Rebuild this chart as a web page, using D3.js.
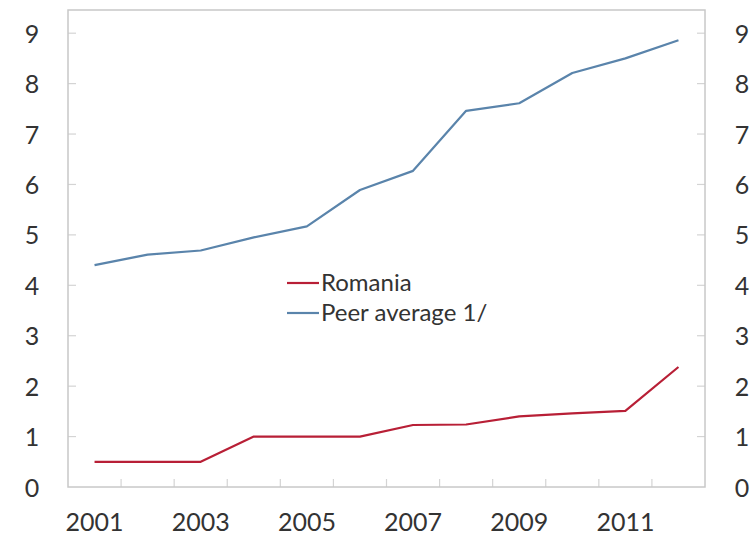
<!DOCTYPE html>
<html>
<head>
<meta charset="utf-8">
<script src="https://cdn.jsdelivr.net/npm/d3@7/dist/d3.min.js"></script>
<style>
  html, body { margin: 0; padding: 0; background: #fff; }
  svg { display: block; }
  text { font-family: Lato, "Open Sans", sans-serif; fill: #333; }
</style>
</head>
<body>
<svg id="chart" width="755" height="535"></svg>
<script>
const years = ["2001","2002","2003","2004","2005","2006","2007","2008","2009","2010","2011","2012"];
const yearLabels = ["2001","2003","2005","2007","2009","2011"];
const romania = [0.5, 0.5, 0.5, 1.0, 1.0, 1.0, 1.23, 1.24, 1.4, 1.46, 1.51, 2.38];
const peerAverage = [4.40, 4.61, 4.69, 4.95, 5.17, 5.89, 6.27, 7.46, 7.61, 8.21, 8.50, 8.86];
const yTicks = [0,1,2,3,4,5,6,7,8,9];
const seriesNames = ["Romania", "Peer average 1/"];

(function () {
const svg = d3.select("#chart");
const mLeft = 68, mRight = 705, mTop = 10, mBottom = 487;

const x = d3.scaleBand().domain(years).range([mLeft, mRight]).padding(0);
const y = d3.scaleLinear().domain([0, 9.46]).range([mBottom, mTop]);
const cx = d => x(d) + x.bandwidth() / 2;

const fontSize = 25;
const gridColor = "#c8c8c8";

// tick marks (inside)
const gTicks = svg.append("g");
yTicks.forEach(v => {
  if (v === 0) return;
  gTicks.append("line").attr("x1", mLeft).attr("x2", mLeft + 8)
    .attr("y1", y(v)).attr("y2", y(v)).attr("stroke", "#d4d4d4").attr("stroke-width", 1.2);
  gTicks.append("line").attr("x1", mRight - 8).attr("x2", mRight)
    .attr("y1", y(v)).attr("y2", y(v)).attr("stroke", "#d4d4d4").attr("stroke-width", 1.2);
});
years.slice(1).forEach(d => {
  gTicks.append("line").attr("x1", x(d)).attr("x2", x(d))
    .attr("y1", mBottom).attr("y2", mBottom - 8).attr("stroke", "#d4d4d4").attr("stroke-width", 1.2);
});

// frame
svg.append("rect").attr("x", mLeft).attr("y", mTop)
  .attr("width", mRight - mLeft).attr("height", mBottom - mTop)
  .attr("fill", "none").attr("stroke", gridColor).attr("stroke-width", 1.5);

// y axes labels
const yAxisL = d3.axisLeft(y).tickValues(yTicks).tickSize(0).tickPadding(0).tickFormat(d3.format("d"));
const gl = svg.append("g").attr("transform", `translate(${mLeft},0)`).call(yAxisL);
gl.select(".domain").remove();
gl.selectAll("text").attr("x", -36).attr("text-anchor", "middle")
  .style("font-size", fontSize + "px").attr("dy", "0.36em").attr("fill", "#333");

const yAxisR = d3.axisRight(y).tickValues(yTicks).tickSize(0).tickPadding(0).tickFormat(d3.format("d"));
const gr = svg.append("g").attr("transform", `translate(${mRight},0)`).call(yAxisR);
gr.select(".domain").remove();
gr.selectAll("text").attr("x", 37).attr("text-anchor", "middle")
  .style("font-size", fontSize + "px").attr("dy", "0.36em").attr("fill", "#333");

// x axis labels
const xAxis = d3.axisBottom(x).tickValues(yearLabels).tickSize(0).tickPadding(0);
const gx = svg.append("g").attr("transform", `translate(0,${mBottom})`).call(xAxis);
gx.select(".domain").remove();
gx.selectAll("text").attr("y", 44).attr("dy", 0)
  .style("font-size", fontSize + "px").attr("fill", "#333");

// lines
const line = d3.line().x((d, i) => cx(years[i])).y(d => y(d));
const colors = ["#b81f36", "#5a84ab"];
[romania, peerAverage].forEach((s, i) => {
  svg.append("path").datum(s).attr("d", line)
    .attr("fill", "none").attr("stroke", colors[i]).attr("stroke-width", 2.2)
    .attr("stroke-linejoin", "round");
});

// legend
const leg = svg.append("g");
const legY = [283, 313];
seriesNames.forEach((n, i) => {
  leg.append("line").attr("x1", 287).attr("x2", 319).attr("y1", legY[i]).attr("y2", legY[i])
    .attr("stroke", colors[i]).attr("stroke-width", 2.2);
  leg.append("text").attr("x", 321).attr("y", legY[i]).attr("dy", "0.35em")
    .style("font-size", "24px").text(n);
});
})();
</script>
</body>
</html>
